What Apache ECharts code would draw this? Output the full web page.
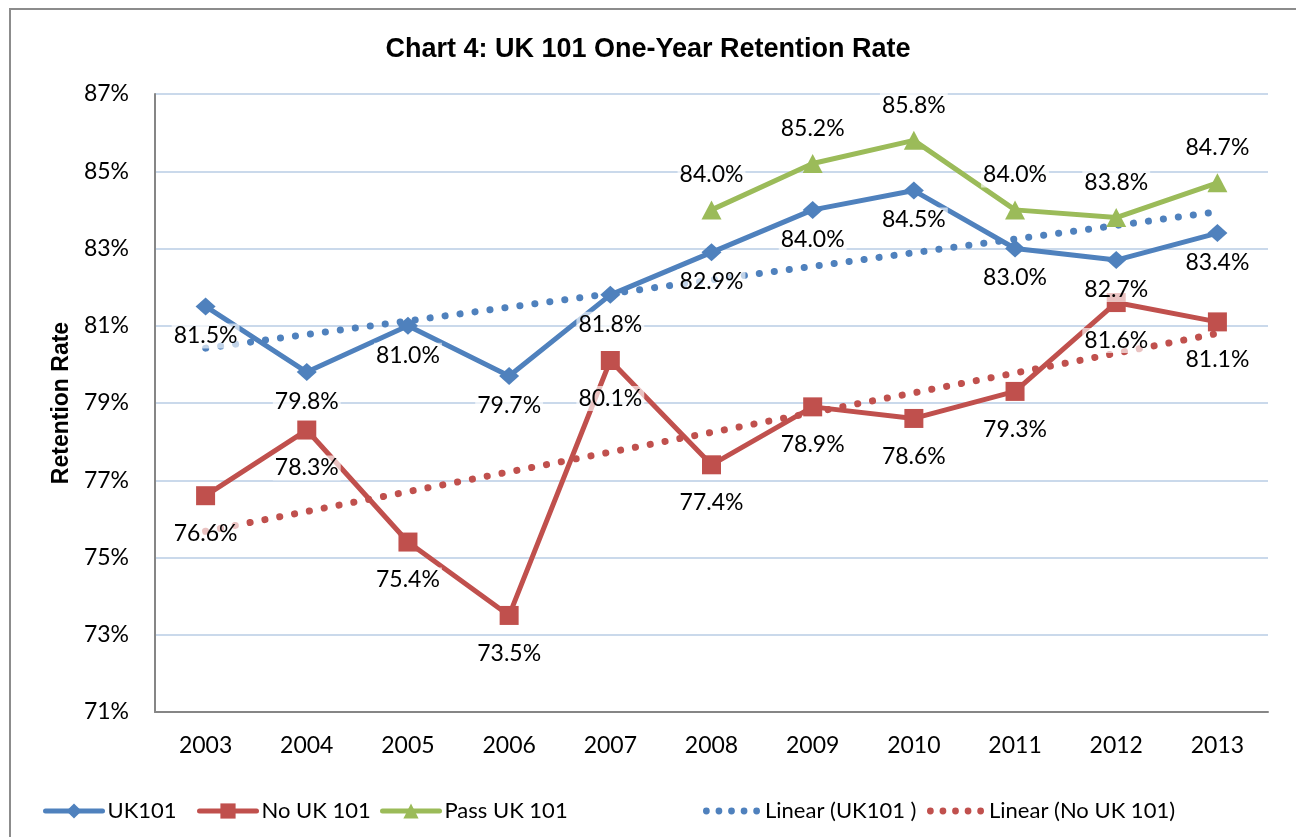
<!DOCTYPE html>
<html>
<head>
<meta charset="utf-8">
<script src="https://cdn.jsdelivr.net/npm/echarts@6/dist/echarts.min.js"></script>
<style>
  html, body { margin: 0; padding: 0; background: #fff; }
  #chart { width: 1296px; height: 837px; }
</style>
</head>
<body>
<div id="chart"></div>
<script>
// years on the x axis
const years = ['2003', '2004', '2005', '2006', '2007', '2008', '2009', '2010', '2011', '2012', '2013'];
// retention rates (%)
const uk101 = [81.5, 79.8, 81.0, 79.7, 81.8, 82.9, 84.0, 84.5, 83.0, 82.7, 83.4];
const noUk101 = [76.6, 78.3, 75.4, 73.5, 80.1, 77.4, 78.9, 78.6, 79.3, 81.6, 81.1];
const passUk101 = [null, null, null, null, null, 84.0, 85.2, 85.8, 84.0, 83.8, 84.7];
// trend lines, endpoints
const trendUk101 = [80.42, null, null, null, null, null, null, null, null, null, 83.95];
const trendNoUk101 = [75.68, null, null, null, null, null, null, null, null, null, 80.8];
// y axis ticks
const yMin = 71, yMax = 87, yStep = 2;

const blue = '#4f81bd';
const red = '#c0504d';
const green = '#9bbb59';
const font = 'Lato';
// five dots for the trend line legend
const dotsIcon = 'path://' + [3.5, 16.5, 29.5, 42.5, 55.5]
	.map((c) => `M${c - 3.5},3.5a3.5,3.5 0 1,0 7,0a3.5,3.5 0 1,0 -7,0Z`)
	.join('');

function valueLabel(pos, dist) {
	return {
		show: true,
		position: pos,
		distance: dist,
		fontFamily: font,
		fontSize: 23,
		color: '#000',
		backgroundColor: 'rgba(255,255,255,0.65)',
		padding: [1, 2],
		formatter: (p) => p.value.toFixed(1) + '%',
	};
}

function legendAt(name, left, icon) {
	const item = icon ? { name: name, icon: icon } : name;
	return {
		data: [item],
		left: left,
		top: 795,
		itemWidth: 57,
		itemHeight: 19,
		lineStyle: { width: 5, cap: 'round' },
		textStyle: { fontFamily: font, fontSize: 22, color: '#000' },
	};
}

const chart = echarts.init(document.getElementById('chart'));
chart.setOption({
	animation: false,
	backgroundColor: '#fff',
	title: {
		text: 'Chart 4: UK 101 One-Year Retention Rate',
		left: 'center',
		top: 31,
		textStyle: { fontFamily: 'Liberation Sans', fontSize: 27, fontWeight: 'bold', color: '#000' },
	},
	graphic: [
		{
			type: 'rect',
			shape: { x: 10, y: 9, width: 1400, height: 900 },
			style: { fill: 'none', stroke: '#8c8c8c', lineWidth: 2 },
			silent: true,
			z: -1,
		},
	],
	grid: { left: 155, right: 28, top: 94, bottom: 125 },
	legend: [
		legendAt('UK101', 38),
		legendAt('No UK 101', 192),
		legendAt('Pass UK 101', 375),
		legendAt('Linear (UK101 )', 698, dotsIcon),
		legendAt('Linear (No UK 101)', 922, dotsIcon),
	],
	xAxis: {
		type: 'category',
		data: years,
		axisLine: { lineStyle: { color: '#868686', width: 2 } },
		axisTick: { show: false },
		axisLabel: { fontFamily: font, fontSize: 23, color: '#000', margin: 22 },
	},
	yAxis: {
		type: 'value',
		min: yMin,
		max: yMax,
		interval: yStep,
		name: 'Retention Rate',
		nameLocation: 'middle',
		nameGap: 81,
		nameTextStyle: { fontFamily: 'Liberation Sans', fontSize: 23, fontWeight: 'bold', color: '#000' },
		axisLine: { show: true, lineStyle: { color: '#868686', width: 2 } },
		axisTick: { show: false },
		axisLabel: { fontFamily: font, fontSize: 23, color: '#000', margin: 26, formatter: '{value}%' },
		splitLine: { lineStyle: { color: '#b9cde5', width: 1.5 } },
	},
	series: [
		{
			name: 'Linear (UK101 )',
			type: 'line',
			data: trendUk101,
			connectNulls: true,
			symbol: 'none',
			lineStyle: { color: blue, width: 7, type: [0.1, 15], cap: 'round' },
			itemStyle: { color: blue },
			z: 1,
		},
		{
			name: 'Linear (No UK 101)',
			type: 'line',
			data: trendNoUk101,
			connectNulls: true,
			symbol: 'none',
			lineStyle: { color: red, width: 7, type: [0.1, 15], cap: 'round' },
			itemStyle: { color: red },
			z: 1,
		},
		{
			name: 'UK101',
			type: 'line',
			data: uk101,
			symbol: 'diamond',
			symbolSize: [20, 18],
			lineStyle: { color: blue, width: 5 },
			itemStyle: { color: blue },
			label: valueLabel('bottom', 8),
			z: 3,
		},
		{
			name: 'No UK 101',
			type: 'line',
			data: noUk101,
			symbol: 'rect',
			symbolSize: 19,
			lineStyle: { color: red, width: 5 },
			itemStyle: { color: red },
			label: valueLabel('bottom', 16),
			z: 3,
		},
		{
			name: 'Pass UK 101',
			type: 'line',
			data: passUk101,
			symbol: 'triangle',
			symbolSize: [20, 19],
			lineStyle: { color: green, width: 5 },
			itemStyle: { color: green },
			label: valueLabel('top', 13),
			z: 3,
		},
	],
});
</script>
</body>
</html>
